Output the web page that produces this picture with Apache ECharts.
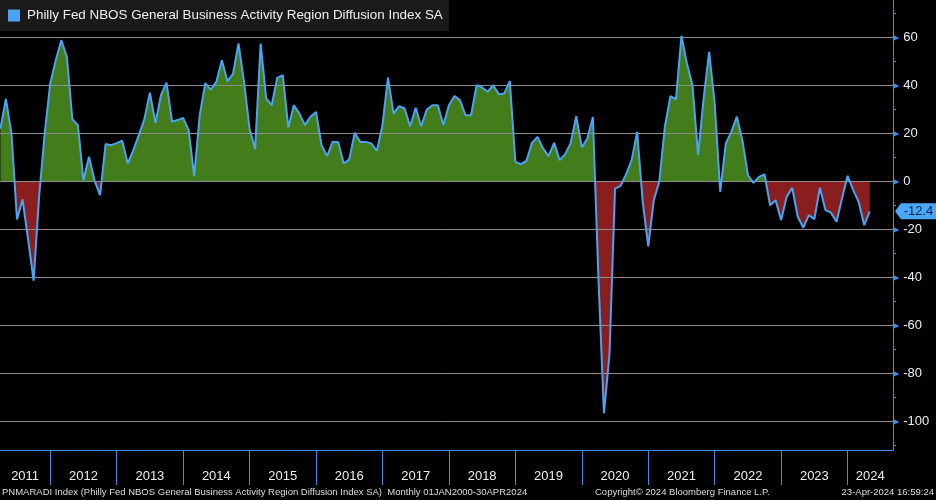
<!DOCTYPE html>
<html><head><meta charset="utf-8">
<script src="https://cdn.jsdelivr.net/npm/echarts@6/dist/echarts.min.js"></script>
<style>html,body{margin:0;padding:0;background:#000}#c{width:936px;height:500px}</style>
</head><body><div id="c"></div>
<script>
const seriesName = 'Philly Fed NBOS General Business Activity Region Diffusion Index SA';
const firstYear = 2011, firstMonth = 3;
const years = [2011, 2012, 2013, 2014, 2015, 2016, 2017, 2018, 2019, 2020, 2021, 2022, 2023, 2024];
const v2011 = [22, 34.4, 20, -15.8, -7.5, -24, -41.3, -6, 20, 40.8];
const v2012 = [50.5, 58.9, 52, 26, 23.5, 0.5, 10.3, 0.5, -5.7, 15.6, 15.1, 16];
const v2013 = [17, 7.5, 13, 19.3, 26, 37, 24.4, 36, 41.2, 24.9, 25.6, 26.5];
const v2014 = [21.4, 2.2, 27.6, 41, 38.3, 41.5, 50.5, 41.8, 44.7, 57.5, 41.5, 22];
const v2015 = [13.5, 57.5, 34.6, 31.8, 43.2, 44.3, 22.5, 31.8, 28.3, 23.5, 27, 29];
const v2016 = [15.1, 10.6, 16.5, 16.5, 7.5, 9.2, 20.3, 16.5, 16.5, 15.8, 12.8, 23.5];
const v2017 = [43.3, 28.3, 31.4, 30.4, 23, 30.7, 23, 30, 31.8, 31.8, 23.5, 31.8];
const v2018 = [35.6, 33.9, 27.6, 27.6, 40.1, 39.2, 37.4, 40.1, 36.4, 36.7, 41.8, 8.2];
const v2019 = [7.2, 8.6, 16.1, 18.6, 13.8, 10.6, 16.1, 8.9, 11.4, 16.1, 27.2, 14.2];
const v2020 = [17.9, 26.9, -40, -96.5, -72, -3, -1.8, 3, 8.9, 20.7, -8.5, -27];
const v2021 = [-7.8, 0, 22.8, 35.6, 34.2, 60.7, 49, 40, 11, 34.6, 54, 32.5];
const v2022 = [-4.3, 15.8, 20.7, 27, 17.2, 2.6, -0.6, 1.9, 3, -9.9, -7.8, -16.1];
const v2023 = [-6.4, -2.6, -14.7, -19.2, -14, -15.7, -2.6, -11.9, -13, -16.8, -7, 2.4];
const v2024 = [-3.5, -8.5, -18.2, -12.4];
const valuesByYear = [v2011, v2012, v2013, v2014, v2015, v2016, v2017, v2018, v2019, v2020, v2021, v2022, v2023, v2024];
const yTicks = [60, 40, 20, 0, -20, -40, -60, -80, -100];
const yMinorTicks = [70, 60, 50, 40, 30, 20, 10, 0, -10, -20, -30, -40, -50, -60, -70, -80, -90, -100, -110];
const footerLeft = 'PNMARADI Index (Philly Fed NBOS General Business Activity Region Diffusion Index SA)  Monthly 01JAN2000-30APR2024';
const footerMid = 'Copyright\u00a9 2024 Bloomberg Finance L.P.';
const footerRight = '23-Apr-2024 16:59:24';

// x = months elapsed since start of firstYear, each value placed at month end
const data = [];
valuesByYear.forEach((arr, i) => {
  const startM = i === 0 ? firstMonth : 1;
  arr.forEach((v, j) => data.push([(years[i] - firstYear) * 12 + startM + j, v]));
});
const last = data[data.length - 1];
const xMin = 2.93, xMax = 164.2;
const yearStarts = years.slice(1).map(y => (y - firstYear) * 12);
const yearCenters = years.map(y => {
  const a = Math.max((y - firstYear) * 12, xMin), b = Math.min((y - firstYear + 1) * 12, xMax);
  return (a + b) / 2;
});

const BLUE_AXIS = '#3b8fe4';
const BLUE_LINE = '#4aa3f3';
const FOOT_FONT = '9.5px "Liberation Sans Narrow", "Liberation Sans"';
const chart = echarts.init(document.getElementById('c'), null, {renderer: 'canvas'});
chart.setOption({
  backgroundColor: '#000',
  animation: false,
  grid: {left: 0, right: 43, top: 0, bottom: 50},
  legend: {
    left: 0, top: 0, padding: [9, 6, 9, 8], backgroundColor: '#1a1a1a',
    data: [seriesName], icon: 'rect', itemWidth: 12, itemHeight: 12, itemGap: 6,
    textStyle: {color: '#f0f0f0', fontSize: 13.4, fontFamily: 'Liberation Sans', padding: [0, 0, 0, 2]}
  },
  visualMap: {
    show: false, type: 'piecewise', dimension: 1, seriesIndex: 0,
    pieces: [{gte: -150, lt: 0, color: '#8a1d1d'}, {gte: 0, lte: 150, color: '#437c1a'}],
    outOfRange: {color: '#437c1a'}
  },
  xAxis: {
    type: 'value', min: xMin, max: xMax,
    axisLine: {onZero: false, lineStyle: {color: BLUE_AXIS, width: 1}},
    axisTick: {customValues: yearStarts, length: 35, lineStyle: {color: BLUE_AXIS}},
    axisLabel: {
      customValues: yearCenters, margin: 20, color: '#eeeeee', fontSize: 13, fontFamily: 'Liberation Sans',
      formatter: v => String(firstYear + Math.floor(v / 12))
    },
    splitLine: {show: false}
  },
  yAxis: {
    type: 'value', position: 'right', min: -111.875, max: 75.625,
    axisLine: {show: true, lineStyle: {color: BLUE_AXIS, width: 1}},
    axisTick: {customValues: yMinorTicks, length: 3, lineStyle: {color: BLUE_AXIS}},
    axisLabel: {
      customValues: yTicks, margin: 0,
      formatter: v => '{t|\u25B6}{v|' + v + '}',
      rich: {
        t: {fontSize: 8, color: BLUE_AXIS, fontFamily: 'DejaVu Sans', padding: [0, 4, 0, 0]},
        v: {fontSize: 13, color: '#eeeeee', fontFamily: 'Liberation Sans'}
      }
    },
    splitLine: {show: false}
  },
  series: [
    {
      type: 'line', name: 'area', data: data, symbol: 'none', z: 2,
      lineStyle: {width: 0}, areaStyle: {opacity: 1},
      markLine: {
        silent: true, symbol: 'none', label: {show: false},
        lineStyle: {color: '#8f8f8f', width: 1, type: 'solid'},
        data: yTicks.map(t => ({yAxis: t}))
      }
    },
    {
      type: 'line', name: seriesName, data: data, symbol: 'none', z: 10, clip: false,
      color: BLUE_LINE, lineStyle: {color: BLUE_LINE, width: 2},
      markPoint: {
        silent: true,
        symbol: 'path://M0,8 L6,0 L41,0 L41,16 L6,16 Z', symbolKeepAspect: false,
        symbolSize: [41, 16], symbolOffset: [22.5, 0],
        itemStyle: {color: '#4aa8f8'},
        label: {show: true, position: 'inside', offset: [3, 0], color: '#06204a', fontSize: 13, fontFamily: 'Liberation Sans',
          formatter: () => last[1].toFixed(1)},
        data: [{coord: [xMax, last[1]]}]
      }
    }
  ],
  graphic: [
    {type: 'text', left: 2, top: 487, style: {text: footerLeft, fill: '#dddddd', font: FOOT_FONT}},
    {type: 'text', left: 595, top: 487, style: {text: footerMid, fill: '#dddddd', font: FOOT_FONT}},
    {type: 'text', right: 2, top: 487, style: {text: footerRight, fill: '#dddddd', font: FOOT_FONT}}
  ]
});
</script></body></html>
